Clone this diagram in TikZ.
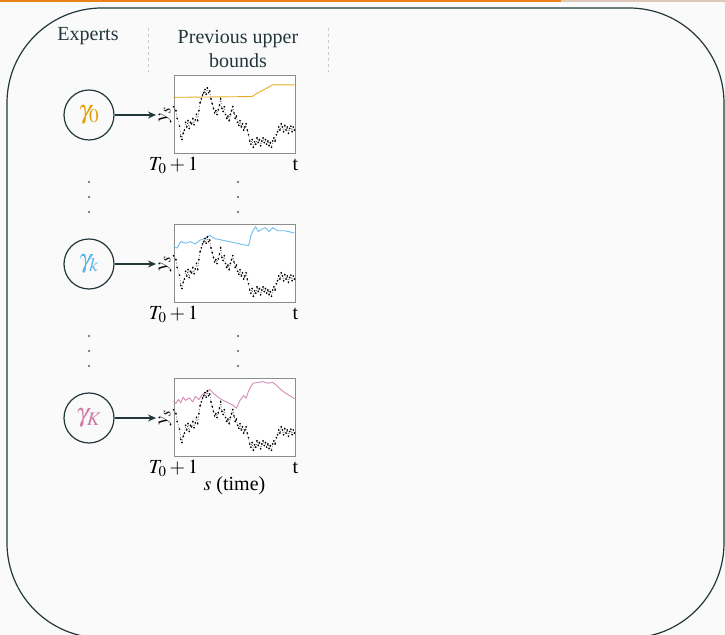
\documentclass[tikz,border=0pt]{standalone}
\usepackage{mathptmx}
\usepackage{fontspec}
\setmainfont{Liberation Serif}
\usetikzlibrary{arrows.meta, positioning}
\definecolor{cteal}{HTML}{23373B}
\definecolor{cbg}{HTML}{FAFAFA}
\definecolor{cbar}{HTML}{EB811B}
\definecolor{cbarbg}{HTML}{DDC9B9}
\definecolor{corange}{HTML}{E69F00}
\definecolor{cblue}{HTML}{56B4E9}
\definecolor{cpink}{HTML}{CC79A7}
\definecolor{cgrey}{HTML}{8C8C8C}
\tikzset{
  every picture/.style={line width=0.6pt},
  expert/.style={circle, draw=cteal, fill=cbg, minimum size=25pt, inner sep=0pt, font=\fontsize{13}{15}\selectfont},
  plotbox/.style={draw=cgrey, line width=0.5pt, fill=white, minimum width=60.5pt, minimum height=39pt, inner sep=0pt},
  arrow/.style={-{Stealth[length=4pt, width=3.5pt]}, draw=cteal},
  head/.style={text=cteal, align=center},
  tick/.style={text height=7pt, text depth=2pt, inner sep=0pt},
  ub/.style={draw=#1!85!white, line width=0.45pt},
  walk/.style={black, line width=0.3pt, densely dotted},
  sep/.style={draw=black!20, line width=0.4pt, dash pattern=on 1.5pt off 1.5pt},
}
% observed series, box coordinates (0..1, top to bottom)
\newcommand\walk{\draw[walk] plot[mark=*, mark size=0.25pt, mark options={solid, fill=black}] coordinates {
  (0,0.40) (0.02,0.45) (0.03,0.55) (0.05,0.65) (0.06,0.78) (0.07,0.82) (0.08,0.74) (0.09,0.70) (0.10,0.60)
  (0.11,0.66) (0.12,0.58) (0.13,0.68) (0.14,0.60) (0.15,0.62) (0.16,0.55) (0.17,0.63) (0.18,0.57) (0.19,0.50)
  (0.20,0.58) (0.21,0.45) (0.22,0.35) (0.23,0.30) (0.24,0.25) (0.25,0.22) (0.26,0.18) (0.27,0.24) (0.28,0.16)
  (0.29,0.22) (0.30,0.20) (0.31,0.30) (0.32,0.36) (0.33,0.42) (0.34,0.48) (0.35,0.45) (0.36,0.50) (0.37,0.44)
  (0.38,0.38) (0.39,0.30) (0.40,0.42) (0.41,0.46) (0.42,0.40) (0.43,0.50) (0.44,0.55) (0.45,0.52) (0.46,0.58)
  (0.47,0.50) (0.48,0.45) (0.49,0.40) (0.50,0.48) (0.51,0.55) (0.52,0.52) (0.53,0.60) (0.54,0.64) (0.55,0.58)
  (0.56,0.66) (0.57,0.62) (0.58,0.70) (0.59,0.66) (0.60,0.62) (0.61,0.70) (0.62,0.76) (0.63,0.84) (0.64,0.88)
  (0.65,0.82) (0.66,0.92) (0.67,0.85) (0.68,0.88) (0.69,0.80) (0.70,0.86) (0.71,0.82) (0.72,0.90) (0.73,0.84)
  (0.74,0.80) (0.75,0.86) (0.76,0.82) (0.77,0.88) (0.78,0.84) (0.79,0.90) (0.80,0.86) (0.81,0.92) (0.82,0.84)
  (0.83,0.80) (0.84,0.84) (0.85,0.76) (0.86,0.72) (0.87,0.66) (0.88,0.70) (0.89,0.62) (0.90,0.66) (0.91,0.72)
  (0.92,0.64) (0.93,0.70) (0.94,0.66) (0.95,0.74) (0.96,0.68) (0.97,0.65) (0.98,0.72) (0.99,0.66) (1,0.70)};}
% upper bounds of each expert
\newcommand\ubzero{\draw[ub=corange] plot coordinates {(0,0.28) (0.65,0.27) (0.70,0.22) (0.75,0.18) (0.82,0.12) (1,0.12)};}
\newcommand\ubk{\draw[ub=cblue] plot coordinates {(0,0.29) (0.03,0.30) (0.06,0.22) (0.10,0.24) (0.14,0.22) (0.18,0.25)
  (0.22,0.20) (0.26,0.18) (0.30,0.14) (0.34,0.18) (0.40,0.20) (0.46,0.22) (0.52,0.24) (0.58,0.26) (0.62,0.27)
  (0.63,0.22) (0.64,0.14) (0.66,0.07) (0.68,0.03) (0.70,0.09) (0.73,0.06) (0.76,0.04) (0.79,0.09) (0.82,0.04)
  (0.86,0.08) (0.92,0.08) (1,0.11)};}
\newcommand\ubK{\draw[ub=cpink] plot coordinates {(0,0.29) (0.02,0.32) (0.04,0.27) (0.06,0.31) (0.08,0.24) (0.10,0.28)
  (0.13,0.25) (0.16,0.30) (0.18,0.23) (0.21,0.27) (0.24,0.20) (0.27,0.18) (0.30,0.14) (0.33,0.19) (0.37,0.24)
  (0.41,0.28) (0.45,0.31) (0.49,0.34) (0.52,0.38) (0.55,0.28) (0.58,0.22) (0.60,0.25) (0.62,0.16) (0.64,0.10)
  (0.66,0.06) (0.70,0.05) (0.74,0.04) (0.78,0.06) (0.82,0.05) (0.86,0.10) (0.90,0.16) (0.94,0.20) (0.97,0.23) (1,0.26)};}

\begin{document}
\begin{tikzpicture}[x=0.5pt, y=-0.5pt]
  \path[use as bounding box, fill=cbg] (0,0) rectangle (725,635);
  % progress bar and frame
  \fill[cbarbg] (0,0) rectangle (725,2);
  \fill[cbar] (0,0) rectangle (561,2);
  \draw[cteal, rounded corners=47.5pt] (7,8) rectangle (724,638);
  % column heads
  \node[head] (hexp) at (88,36) {Experts};
  \node[head] (hprev) at (238,49) {Previous upper\\bounds};
  \draw[sep] (148,28) -- (148,72); \draw[sep] (328,28) -- (328,72);
  % experts and their plots
  \foreach \i/\lab/\col/\yc/\ub in {0/\gamma_0/corange/115/\ubzero, k/\gamma_k/cblue/264/\ubk, K/\gamma_K/cpink/418/\ubK} {
    \node[expert, text=\col] (e\i) at (89,\yc) {$\lab$};
    \node[plotbox] (p\i) at (234.5,\yc) {};
    \node[rotate=90, inner sep=1pt] (ys\i) at (165,\yc) {$y_s$};
    \draw[arrow] (e\i) -- (ys\i);
    \begin{scope}[shift={(p\i.north west)}, x=60.5pt, y=-39pt]
      \ub \walk
    \end{scope}
    \node[tick, below=0.5pt of p\i.south west] (ta\i) {$T_0+1$};
    \node[tick, below=0.5pt of p\i.south east] (tb\i) {t};
  }
  \node[tick, below=9pt of pK.south] (xlab) {$s$ (time)};
  % vertical dots
  \foreach \x in {89,238} \foreach \y in {182,197,212,336,351,366} \fill[cteal!80] (\x,\y) circle (0.6pt);
\end{tikzpicture}
\end{document}
